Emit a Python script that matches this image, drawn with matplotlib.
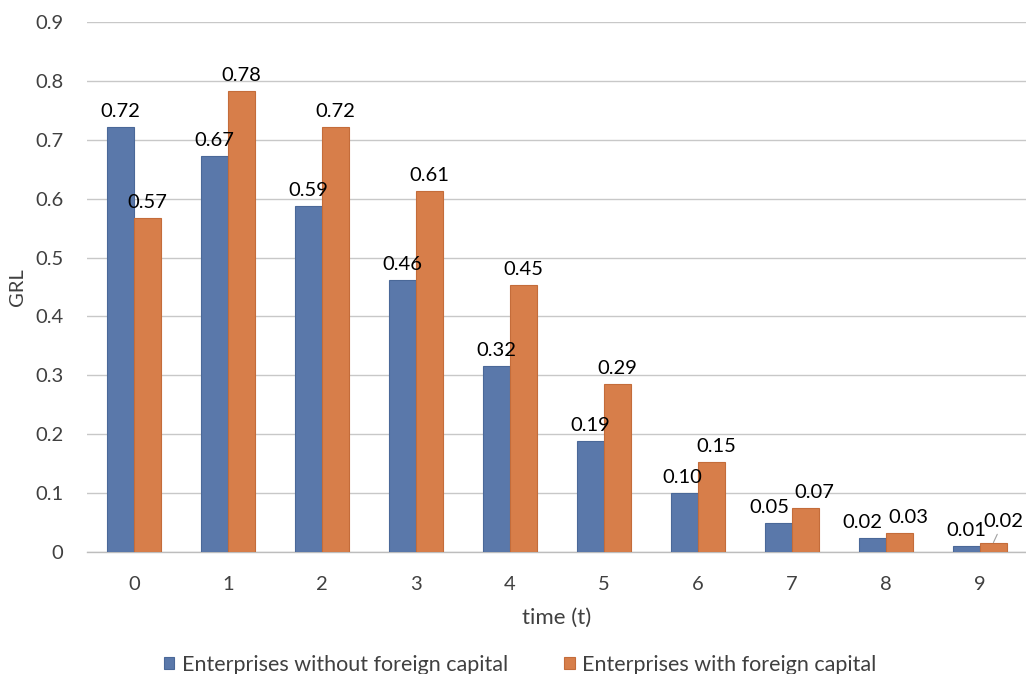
import matplotlib
matplotlib.use("Agg")
import matplotlib.pyplot as plt
import numpy as np

plt.rcParams['font.family'] = ['Lato', 'DejaVu Sans']

# Data
periods = ["0", "1", "2", "3", "4", "5", "6", "7", "8", "9"]
without_foreign = [0.722, 0.672, 0.587, 0.462, 0.316, 0.188, 0.100, 0.049, 0.024, 0.010]
with_foreign = [0.567, 0.783, 0.722, 0.613, 0.453, 0.286, 0.153, 0.074, 0.032, 0.016]
series_names = ["Enterprises without foreign capital", "Enterprises with foreign capital"]
y_ticks = [0.0, 0.1, 0.2, 0.3, 0.4, 0.5, 0.6, 0.7, 0.8, 0.9]

blue = "#5A78AA"
blue_edge = "#4A6898"
orange = "#D77E4A"
orange_edge = "#C46C3A"
text_col = "#404040"
fs_num = 14.5
fs_txt = 16
fs_leg = 15.5

# Horizontal nudges (points) that keep crowded value labels apart
nudge_blue = {6: -1.5, 7: -6.5, 8: -7.5}
nudge_orange = {6: 3.5, 7: 6.5, 8: 6.5}

fig = plt.figure(figsize=(10.26, 6.74), dpi=100)
ax = fig.add_axes([87 / 1026, 122 / 674, 940 / 1026, 530 / 674])

x = np.arange(len(periods))
w = 0.285
b1 = ax.bar(x - w / 2, without_foreign, w, color=blue, edgecolor=blue_edge,
            linewidth=0.8, label=series_names[0], zorder=3)
b2 = ax.bar(x + w / 2, with_foreign, w, color=orange, edgecolor=orange_edge,
            linewidth=0.8, label=series_names[1], zorder=3)

# Value labels above each bar
for i, (xi, v) in enumerate(zip(x - w / 2, without_foreign)):
    ax.annotate(f"{v:.2f}", (xi, v), xytext=(nudge_blue.get(i, 0), 5),
                textcoords="offset points", ha="center", va="bottom",
                fontsize=fs_num, color="black", zorder=4)
last = len(with_foreign) - 1
for i, (xi, v) in enumerate(zip(x + w / 2, with_foreign)):
    if i == last:
        ax.annotate(f"{v:.2f}", (xi, v), xytext=(7, 15), textcoords="offset points",
                    ha="center", va="center", fontsize=fs_num, color="black", zorder=4,
                    arrowprops=dict(arrowstyle="-", color="#A0A0A0", lw=0.8,
                                    shrinkA=1, shrinkB=0))
    else:
        ax.annotate(f"{v:.2f}", (xi, v), xytext=(nudge_orange.get(i, 0), 5),
                    textcoords="offset points", ha="center", va="bottom",
                    fontsize=fs_num, color="black", zorder=4)

ax.set_xlim(-0.5, len(periods) - 0.5)
ax.set_ylim(0, 0.9)
ax.set_xticks(x)
ax.set_xticklabels(periods)
ax.set_yticks(y_ticks)
ax.set_yticklabels([f"{t:.1f}" if t > 0 else "0" for t in y_ticks])

ax.yaxis.grid(True, color="#C8C8C8", linewidth=1.0, zorder=0)
ax.set_axisbelow(True)
for s in ["top", "right", "left"]:
    ax.spines[s].set_visible(False)
ax.spines["bottom"].set_color("#BDBDBD")
ax.spines["bottom"].set_linewidth(1.0)
ax.tick_params(axis="both", length=0, labelsize=fs_num, colors=text_col)
ax.tick_params(axis="y", pad=17)
ax.tick_params(axis="x", pad=17)

ax.set_ylabel("GRL", fontsize=fs_num, color=text_col)
ax.yaxis.set_label_coords(-61 / 940, 0.5)
ax.set_xlabel("time (t)", fontsize=fs_txt, color=text_col)
ax.xaxis.set_label_coords(0.5, -56 / 530)

leg = fig.legend(handles=[b1, b2], labels=series_names, loc="center",
                 bbox_to_anchor=(520 / 1026, 1 - 665 / 674), ncol=2, frameon=False,
                 fontsize=fs_leg, handlelength=0.5, handleheight=0.5,
                 handletextpad=0.35, columnspacing=2.6)
for t in leg.get_texts():
    t.set_color(text_col)

fig.savefig("out.png", dpi=100)
